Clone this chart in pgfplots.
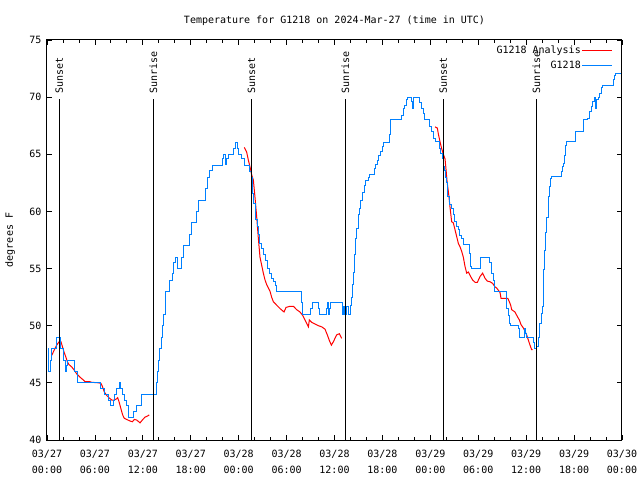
\documentclass[border=0pt]{standalone}
\usepackage{pgfplots}
\pgfplotsset{compat=1.18}
\usepackage{fontspec}
\setmainfont{DejaVu Sans Mono}
\definecolor{gblue}{RGB}{0,128,255}
\begin{document}
\begin{tikzpicture}
\path[use as bounding box] (0,0) rectangle (640pt,480pt);
\begin{axis}[
 at={(47pt,40pt)}, anchor=south west,
 scale only axis, width=575pt, height=400pt,
 xmin=0, xmax=72, ymin=40, ymax=75,
 xtick={0,6,...,72},
 xticklabels={{03/27\\00:00},{03/27\\06:00},{03/27\\12:00},{03/27\\18:00},{03/28\\00:00},{03/28\\06:00},{03/28\\12:00},{03/28\\18:00},{03/29\\00:00},{03/29\\06:00},{03/29\\12:00},{03/29\\18:00},{03/30\\00:00}},
 minor x tick num=2,
 ytick={40,45,...,75},
 tick align=inside,
 major tick length=5pt, minor tick length=3pt,
 every tick/.style={black, line width=0.8pt},
 axis line style={line width=1pt},
 font=\fontsize{10}{12}\selectfont,
 xticklabel style={align=center, font=\fontsize{10}{16}\selectfont, yshift=-7pt},
 yticklabel style={xshift=-2pt},
 /pgf/number format/assume math mode=true,
 title={Temperature for G1218 on 2024-Mar-27 (time in UTC)},
 title style={at={(axis description cs:0.5,1)}, anchor=center, yshift=13pt},
 ylabel={degrees F},
 ylabel style={at={(axis description cs:-0.0643,0.5)}, anchor=center},
 legend style={draw=none, fill=none, at={(rel axis cs:1,1)}, anchor=north east, xshift=-6pt, yshift=-1pt, nodes={inner sep=1pt, text height=9pt, text depth=4pt}},
 legend plot pos=right, legend cell align=right,
 legend image code/.code={\draw[#1] (0pt,0pt) -- (30pt,0pt);},
 unbounded coords=jump,
]
\addplot[red, line width=1pt] coordinates {
(0.58,47.4) (0.79,47.7) (1.0,48.0) (1.21,48.3) (1.42,48.5) (1.63,48.7) (1.75,48.6) (1.92,48.2) (2.13,47.7) (2.34,47.3) (2.55,46.85) (2.75,46.6) (3.09,46.4) (3.42,46.1) (3.71,45.8) (4.13,45.5) (4.55,45.25) (4.76,45.1) (5.38,45.1) (5.59,45.05) (6.51,45.0) (6.76,44.95) (6.93,44.7) (7.18,44.2) (7.47,43.9) (7.76,43.7) (8.1,43.5) (8.43,43.5) (8.72,43.6) (8.85,43.7) (9.02,43.35) (9.27,42.7) (9.47,42.2) (9.68,41.9) (9.98,41.8) (10.39,41.66) (10.69,41.6) (10.94,41.8) (11.23,41.75) (11.65,41.5) (11.94,41.75) (12.27,42.0) (12.6,42.1) (12.8,42.2)
(12.9,nan)
(24.71,65.6) (25.0,65.2) (25.21,64.5) (25.42,63.9) (25.63,63.2) (25.84,62.75) (26.05,61.2) (26.26,59.5) (26.47,57.6) (26.67,56.0) (26.88,55.3) (27.09,54.6) (27.3,54.0) (27.51,53.6) (27.72,53.3) (27.93,53.0) (28.13,52.5) (28.34,52.1) (28.76,51.8) (29.18,51.5) (29.68,51.2) (29.93,51.6) (30.43,51.7) (30.85,51.7) (31.27,51.4) (31.68,51.2) (32.02,50.9) (32.31,50.5) (32.52,50.2) (32.73,49.9) (32.85,50.5) (33.14,50.3) (33.56,50.15) (33.98,50.0) (34.4,49.9) (34.81,49.7) (35.1,49.2) (35.36,48.7) (35.61,48.3) (35.86,48.6) (36.27,49.2) (36.61,49.3) (36.9,48.9)
(37.0,nan)
(48.59,67.4) (48.88,67.3) (49.0,66.8) (49.21,66.1) (49.42,65.5) (49.63,65.0) (49.84,64.6) (49.95,63.8) (50.1,62.6) (50.3,61.5) (50.46,60.4) (50.67,59.1) (50.88,59.0) (51.09,58.4) (51.3,57.8) (51.51,57.2) (51.72,56.9) (51.93,56.5) (52.13,56.0) (52.34,55.2) (52.55,54.6) (52.76,54.7) (53.05,54.3) (53.3,54.0) (53.6,53.8) (53.89,53.8) (54.22,54.3) (54.55,54.6) (54.85,54.15) (55.14,53.9) (55.47,53.85) (55.81,53.7) (56.1,53.4) (56.31,53.3) (56.52,53.1) (56.73,52.9) (56.85,52.4) (57.7,52.4) (57.89,52.1) (58.06,51.8) (58.19,51.4) (58.6,51.2) (58.9,50.8) (59.15,50.5) (59.35,50.1) (59.65,49.8) (59.86,49.5) (60.06,49.2) (60.27,48.75) (60.48,48.3) (60.69,47.9) (60.82,47.9)
};
\addlegendentry{G1218 Analysis}
\addplot[gblue, line width=1pt, const plot] coordinates {
(0.15,48) (0.25,46) (0.4,47) (0.55,48) (1.2,49) (1.75,48) (2.05,47) (2.3,46) (2.45,46.5) (2.6,47) (3.4,46) (3.8,45) (6.75,44.5) (7.15,44) (7.7,43.5) (7.95,43) (8.3,43.5) (8.5,44) (8.75,44.5) (9.05,45) (9.2,44.5) (9.45,44) (9.7,43.5) (9.95,43) (10.25,42) (10.85,42.5) (11.2,43) (11.85,44) (13.7,45) (13.85,46) (13.95,47) (14.1,48) (14.3,49) (14.5,50) (14.65,51) (14.8,52) (14.9,53) (15.3,54) (15.75,54.6) (15.9,55.5) (16.1,56) (16.3,55) (16.85,56) (17.05,57) (17.8,58) (18.1,59) (18.7,60) (18.95,61) (19.9,62) (20.1,63) (20.4,63.6) (20.7,64) (22.0,64.6) (22.15,65) (22.3,64.1) (22.45,64.6) (22.7,65) (23.4,65.5) (23.65,66) (23.8,65.5) (24.0,65) (24.3,64.6) (24.7,64) (25.4,63.5) (25.55,63) (25.7,61.6) (25.9,60.7) (26.05,59.8) (26.17,59.3) (26.34,58.7) (26.47,58) (26.67,57.2) (26.88,56.8) (27.09,56.2) (27.3,55.7) (27.59,55) (27.84,54.6) (28.05,54.1) (28.34,53.9) (28.55,53.5) (28.76,53) (31.85,52) (32.05,51) (33.0,51.5) (33.2,52) (34.0,51.5) (34.15,51) (34.95,51.5) (35.1,52) (35.25,51) (35.4,51.5) (35.5,52) (37.0,51) (37.15,51.7) (37.3,51) (37.5,51.7) (37.7,51) (38.0,51.8) (38.1,52.5) (38.2,53.6) (38.33,54.7) (38.46,56.2) (38.6,57.6) (38.75,58.5) (38.95,59.7) (39.1,60.3) (39.3,61) (39.5,61.7) (39.7,62.3) (39.9,62.75) (40.2,63) (40.4,63.2) (40.95,63.8) (41.15,64.1) (41.35,64.5) (41.55,64.9) (41.7,65.2) (41.95,65.7) (42.1,66) (42.9,66.7) (43.05,68) (44.4,68.4) (44.6,69) (44.8,69.3) (45.0,69.75) (45.15,70) (45.6,69.6) (45.8,69) (45.95,70) (46.65,69.5) (46.9,69) (47.1,68.6) (47.3,68) (47.95,67.4) (48.15,67) (48.4,66.4) (48.6,66.1) (49.1,65.5) (49.3,65.1) (49.5,64.6) (49.63,63.9) (49.75,63.6) (49.92,63) (50.05,62.5) (50.2,61.3) (50.4,60.6) (50.6,60.3) (50.85,59.7) (51.05,59.1) (51.3,58.7) (51.5,58.4) (51.7,57.9) (51.9,57.6) (52.1,57.1) (52.85,56.3) (53.0,55.2) (53.15,55) (54.25,56) (55.45,55.5) (55.7,54.6) (55.85,54) (56.05,53) (57.5,51.5) (57.75,50.9) (57.95,50.2) (58.1,50) (59.0,49.8) (59.15,49) (59.75,49.8) (59.9,49.3) (60.0,49) (60.9,48.5) (61.1,48) (61.3,48.2) (61.5,49) (61.7,50.2) (61.9,51.1) (62.05,51.7) (62.12,52.8) (62.2,54.9) (62.3,56.6) (62.45,58.2) (62.6,59.5) (62.75,61.3) (62.9,62.2) (63.05,62.9) (63.2,63.1) (64.4,63.5) (64.55,63.9) (64.7,64.2) (64.85,64.9) (64.95,65.8) (65.1,66.1) (66.2,67) (67.2,68) (67.7,68.15) (67.95,68.7) (68.15,69.2) (68.35,69.6) (68.5,70) (68.62,69) (68.75,69.75) (69.0,70) (69.2,70.3) (69.4,70.8) (69.6,71) (70.9,71.5) (71.1,71.9) (71.2,72.1) (71.9,72.1)
};
\addlegendentry{G1218}
\addplot[black, line width=1pt, forget plot] coordinates {(1.54,40) (1.54,69.8)};
\addplot[black, line width=1pt, forget plot] coordinates {(13.31,40) (13.31,69.8)};
\addplot[black, line width=1pt, forget plot] coordinates {(25.6,40) (25.6,69.8)};
\addplot[black, line width=1pt, forget plot] coordinates {(37.36,40) (37.36,69.8)};
\addplot[black, line width=1pt, forget plot] coordinates {(49.63,40) (49.63,69.8)};
\addplot[black, line width=1pt, forget plot] coordinates {(61.27,40) (61.27,69.8)};
\node[rotate=90, anchor=west, inner sep=1pt] at (axis cs:1.54,70.2) {Sunset};
\node[rotate=90, anchor=west, inner sep=1pt] at (axis cs:13.31,70.2) {Sunrise};
\node[rotate=90, anchor=west, inner sep=1pt] at (axis cs:25.6,70.2) {Sunset};
\node[rotate=90, anchor=west, inner sep=1pt] at (axis cs:37.36,70.2) {Sunrise};
\node[rotate=90, anchor=west, inner sep=1pt] at (axis cs:49.63,70.2) {Sunset};
\node[rotate=90, anchor=west, inner sep=1pt] at (axis cs:61.27,70.2) {Sunrise};
\end{axis}
\end{tikzpicture}
\end{document}
